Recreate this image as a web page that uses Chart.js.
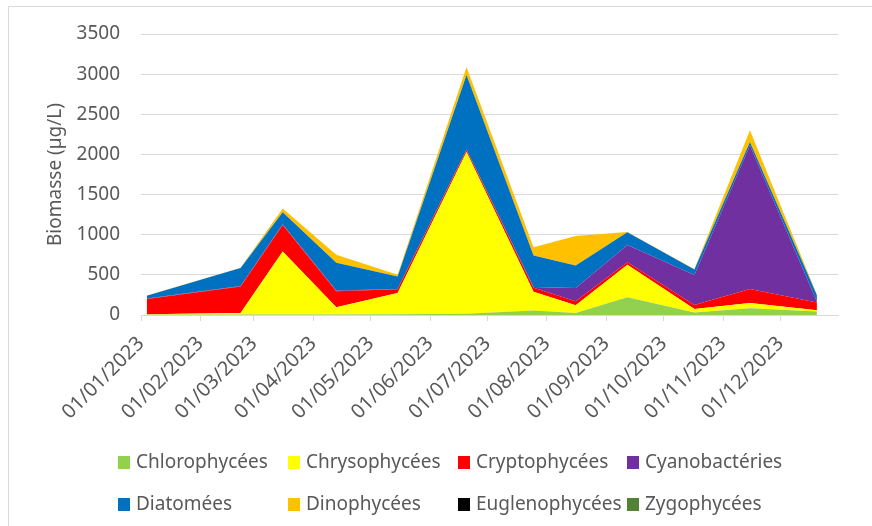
<!DOCTYPE html>
<html>
<head>
<meta charset="utf-8">
<script src="https://cdn.jsdelivr.net/npm/chart.js@4/dist/chart.umd.min.js"></script>
<style>
  html, body { margin: 0; padding: 0; background: #fff; overflow: hidden; }
  #wrap { position: relative; width: 872px; height: 526px; }
  #frame { position: absolute; left: 8px; top: 6px; width: 1000px; height: 1000px; border: 1px solid #d9d9d9; box-sizing: border-box; }
  canvas { position: absolute; left: 0; top: 0; }
  .leg { position: absolute; font-family: "Noto Sans", sans-serif; font-size: 19px; color: #595959; white-space: nowrap; line-height: 20px; }
  .leg span.box { position: absolute; left: 0; top: 3px; width: 12px; height: 13px; }
  .leg span.txt { position: absolute; left: 18px; top: -2px; }
</style>
</head>
<body>
<div id="wrap">
  <div id="frame"></div>
  <canvas id="chart" width="872" height="526"></canvas>
  <div id="legend"></div>
</div>
<script>
const seriesNames = ["Chlorophycées", "Chrysophycées", "Cryptophycées", "Cyanobactéries",
                     "Diatomées", "Dinophycées", "Euglenophycées", "Zygophycées"];
const seriesColors = ["#92D050", "#FFFF00", "#FF0000", "#7030A0",
                      "#0070C0", "#FFC000", "#000000", "#548235"];

// sampling dates
const sampleDates = ["04/01/2023", "22/02/2023", "16/03/2023", "13/04/2023", "15/05/2023", "20/06/2023",
                     "25/07/2023", "16/08/2023", "12/09/2023", "17/10/2023", "15/11/2023", "20/12/2023"];

const chloro  = [5, 5, 5, 5, 10, 15, 55, 25, 220, 30, 85, 45];
const chryso  = [5, 20, 785, 90, 265, 2015, 235, 95, 405, 45, 65, 15];
const crypto  = [190, 330, 330, 200, 45, 25, 50, 50, 33, 50, 175, 95];
const cyano   = [5, 5, 10, 10, 5, 5, 10, 165, 215, 372, 1790, 10];
const diato   = [35, 225, 150, 345, 155, 930, 390, 280, 157, 70, 40, 82];
const dino    = [3, 5, 45, 100, 20, 100, 105, 370, 5, 5, 145, 5];
const eugleno = [0, 0, 0, 0, 0, 0, 0, 0, 0, 0, 0, 0];
const zygo    = [0, 0, 0, 0, 0, 0, 0, 0, 0, 0, 0, 0];

const xTickLabels = ["01/01/2023", "01/02/2023", "01/03/2023", "01/04/2023", "01/05/2023", "01/06/2023",
                     "01/07/2023", "01/08/2023", "01/09/2023", "01/10/2023", "01/11/2023", "01/12/2023"];
const xAxisEnd = "31/12/2023";
const yTicks = [0, 500, 1000, 1500, 2000, 2500, 3000, 3500];

// dd/mm/yyyy -> days since 01/01/2023
function dayOf(s) {
  const [d, m, y] = s.split("/").map(Number);
  return (Date.UTC(y, m - 1, d) - Date.UTC(2023, 0, 1)) / 86400000;
}

const allSeries = [chloro, chryso, crypto, cyano, diato, dino, eugleno, zygo];
const xs = sampleDates.map(dayOf);

const datasets = allSeries.map((vals, i) => ({
  label: seriesNames[i],
  data: vals.map((v, j) => ({ x: xs[j], y: v })),
  backgroundColor: seriesColors[i],
  borderColor: seriesColors[i],
  borderWidth: 0,
  pointRadius: 0,
  tension: 0,
  fill: i === 0 ? "origin" : "-1"
}));

const ctx = document.getElementById("chart").getContext("2d");
new Chart(ctx, {
  type: "line",
  data: { datasets: datasets },
  options: {
    responsive: false,
    animation: false,
    layout: { padding: { left: 0, top: 34, right: 34, bottom: 0 } },
    plugins: { legend: { display: false }, tooltip: { enabled: false } },
    scales: {
      x: {
        type: "linear",
        min: 0,
        max: dayOf(xAxisEnd),
        afterBuildTicks: scale => {
          scale.ticks = xTickLabels.map(l => ({ value: dayOf(l), label: l }));
        },
        afterFit: scale => { scale.height = 526 - 315; },
        ticks: {
          autoSkip: false,
          maxRotation: 45,
          minRotation: 45,
          padding: 11,
          color: "#595959",
          font: { family: "Noto Sans", size: 20 },
          callback: (v) => xTickLabels.find(l => dayOf(l) === v) || ""
        },
        grid: { drawOnChartArea: false, drawTicks: true, tickLength: 6, color: "#d9d9d9" },
        border: { display: true, color: "#d9d9d9" }
      },
      y: {
        stacked: true,
        min: yTicks[0],
        max: yTicks[yTicks.length - 1],
        afterBuildTicks: scale => {
          scale.ticks = yTicks.map(v => ({ value: v }));
        },
        afterFit: scale => { scale.width = 141; },
        ticks: {
          padding: 21,
          color: "#595959",
          font: { family: "Noto Sans", size: 19 },
          callback: v => String(v)
        },
        grid: { color: "#d9d9d9", drawTicks: false },
        border: { display: false },
        title: {
          display: true,
          text: "Biomasse (µg/L)",
          color: "#595959",
          font: { family: "Noto Sans", size: 19 },
          padding: { top: 44, bottom: 0 }
        }
      }
    }
  }
});

// legend, 4 columns x 2 rows like the original
const legendCols = [118, 288, 458, 627];
const legendRows = [453, 495];
const legend = document.getElementById("legend");
seriesNames.forEach((name, i) => {
  const el = document.createElement("div");
  el.className = "leg";
  el.style.left = legendCols[i % 4] + "px";
  el.style.top = legendRows[Math.floor(i / 4)] + "px";
  el.innerHTML = '<span class="box" style="background:' + seriesColors[i] + '"></span><span class="txt">' + name + '</span>';
  legend.appendChild(el);
});
</script>
</body>
</html>
